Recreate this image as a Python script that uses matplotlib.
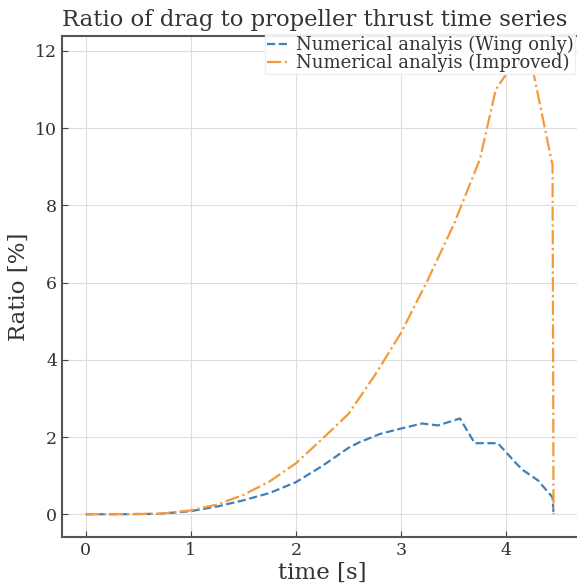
import matplotlib
matplotlib.use("Agg")
import matplotlib.pyplot as plt
import numpy as np

# data
t_wing = [0.0, 0.3, 0.7, 1.0, 1.25, 1.5, 1.75, 2.0, 2.25, 2.5, 2.6, 2.8,
          3.0, 3.2, 3.35, 3.56, 3.70, 3.92, 4.1, 4.16, 4.3, 4.44, 4.45]
r_wing = [0.0, 0.0, 0.01, 0.08, 0.2, 0.36, 0.55, 0.83, 1.25, 1.72, 1.86,
          2.08, 2.22, 2.35, 2.30, 2.48, 1.84, 1.84, 1.3, 1.14, 0.88, 0.44, 0.0]

t_imp = [0.0, 0.3, 0.7, 1.0, 1.25, 1.5, 1.75, 2.0, 2.25, 2.5, 2.75, 3.0,
         3.25, 3.5, 3.75, 3.9, 4.0, 4.16, 4.25, 4.42, 4.44, 4.45]
r_imp = [0.0, 0.0, 0.01, 0.1, 0.25, 0.5, 0.85, 1.32, 1.95, 2.6, 3.6, 4.7,
         6.05, 7.5, 9.2, 11.0, 11.4, 11.8, 11.55, 9.3, 9.05, 0.0]

plt.rcParams["font.family"] = "DejaVu Serif"

fig = plt.figure(figsize=(5.77, 5.84), dpi=100)
ax = fig.add_axes([0.1075, 0.0805, 0.902, 0.858])

ax.plot(t_wing, r_wing, "--", color="#3f80b8", lw=1.6,
        label="Numerical analyis (Wing only)")
ax.plot(t_imp, r_imp, "-.", color="#f39a3a", lw=1.6,
        label="Numerical analyis (Improved)")

ax.set_xlim(-0.225, 4.725)
ax.set_ylim(-0.59, 12.39)
ax.set_xticks([0, 1, 2, 3, 4])
ax.set_yticks([0, 2, 4, 6, 8, 10, 12])
ax.grid(color="#dddddd", lw=0.8)
ax.tick_params(direction="in", length=4, labelsize=12.5, colors="#444444",
               labelcolor="#333333")
for s in ax.spines.values():
    s.set_color("#555555")
    s.set_linewidth(1.5)
ax.spines["right"].set_visible(False)

ax.set_xlabel("time [s]", fontsize=16.5, color="#333333", labelpad=2)
ax.set_ylabel("Ratio [%]", fontsize=16.5, color="#333333")
ax.set_title("Ratio of drag to propeller thrust time series", fontsize=16.4,
             color="#333333", pad=7, x=0.485)

leg = ax.legend(loc="upper right", bbox_to_anchor=(0.997, 0.942),
                bbox_transform=fig.transFigure, fontsize=13.0,
                handlelength=1.3, handletextpad=0.3, borderpad=0.1,
                labelspacing=0.0, borderaxespad=0.0, framealpha=0.9,
                fancybox=False, edgecolor="#eeeeee")
for txt in leg.get_texts():
    txt.set_color("#333333")

fig.savefig("out.png", dpi=100)
